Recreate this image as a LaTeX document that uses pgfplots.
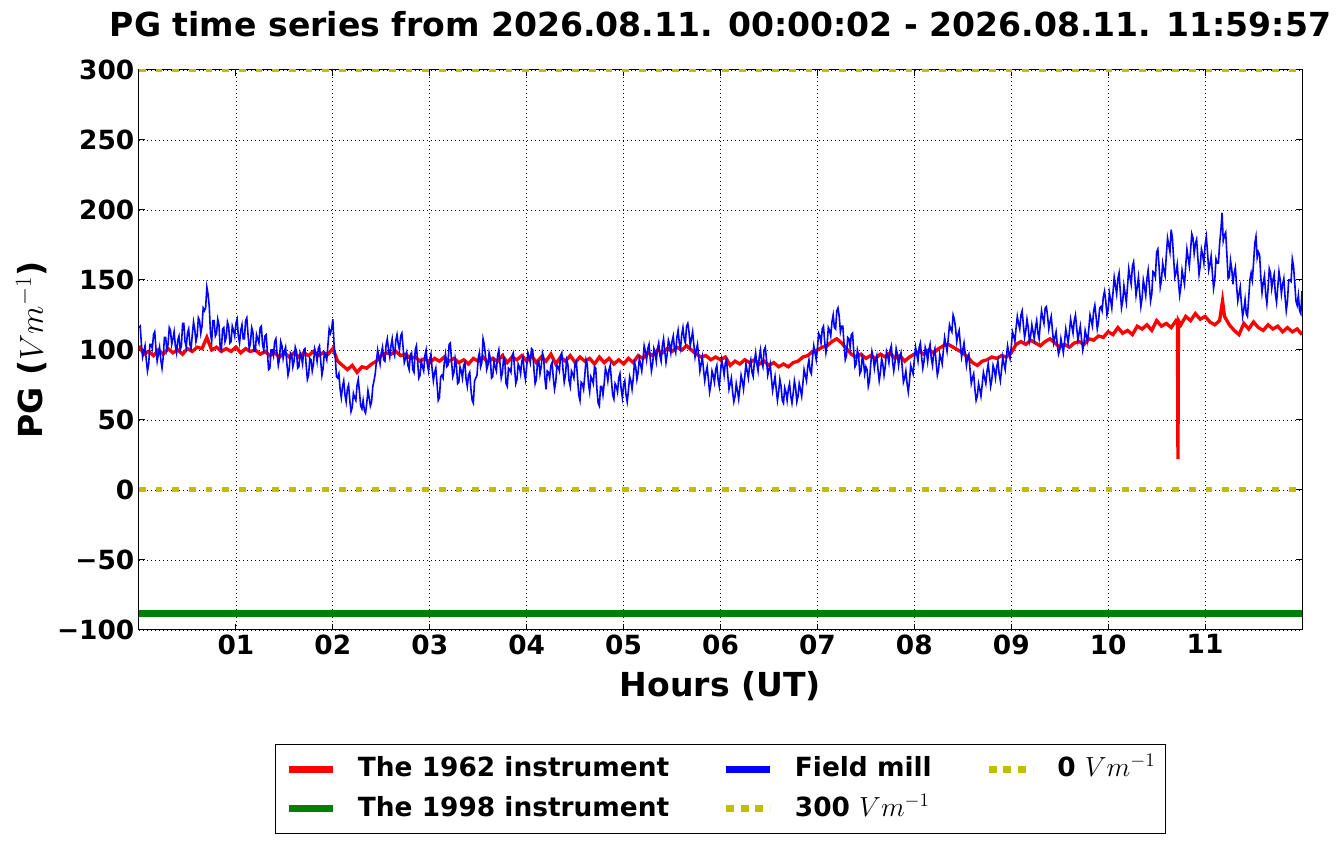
\documentclass[border=0pt]{standalone}
\usepackage[no-math]{fontspec}
\setmainfont{DejaVu Sans}
\usepackage{pgfplots}
\pgfplotsset{compat=1.18}
\definecolor{myred}{rgb}{1,0,0}
\definecolor{myblue}{rgb}{0,0,1}
\definecolor{mygreen}{rgb}{0,0.5,0}
\definecolor{myyellow}{rgb}{0.75,0.75,0}
\newcommand{\tickfont}{\fontsize{19.8}{23}\selectfont\bfseries}
\newcommand{\labfont}{\fontsize{24.8}{30}\selectfont\bfseries}
\newcommand{\unitm}{{\fontsize{19.4}{20}\selectfont$Vm^{-1}$}}
\begin{document}
\begin{tikzpicture}
\begin{axis}[
  name=ax,
  scale only axis,
  width=872.25pt, height=420pt,
  xmin=0, xmax=12, ymin=-100, ymax=300,
  xtick={1,2,3,4,5,6,7,8,9,10,11},
  xticklabels={01,02,03,04,05,06,07,08,09,10,11},
  ytick={-100,-50,0,50,100,150,200,250,300},
  yticklabels={−100,−50,0,50,100,150,200,250,300},
  tick label style={font=\tickfont},
  grid=major,
  major grid style={black, line width=0.6pt, dash pattern=on 0.75pt off 2.25pt},
  axis line style={black, line width=0.75pt},
  tick style={black, line width=0.75pt},
  major tick length=4.5pt,
  tick align=inside,
  legend columns=3,
  legend cell align=left,
  legend style={at={(0.5,0)}, anchor=north, yshift=-85.5pt, draw=black, line width=0.75pt,
    inner xsep=7.5pt, inner ysep=9pt, font=\tickfont,
    nodes={inner sep=0pt, text height=15pt, text depth=3.75pt},
    /tikz/row sep=11.25pt,
    /tikz/every odd column/.append style={column sep=16pt},
    /tikz/every even column/.append style={column sep=40pt}},
  legend image code/.code={\path (0pt,-6.4pt) -- (0pt,-6.4pt); \draw[#1] (0pt,0pt) -- (33pt,0pt);},
]
\addplot[myred, line width=2.5pt, forget plot] coordinates {
(0.00,103)(0.05,97)(0.10,99)(0.15,96)(0.20,100)(0.25,97)(0.30,101)(0.35,98)(0.40,100)(0.45,97)
(0.50,101)(0.55,99)(0.60,102)(0.65,101)(0.70,109)(0.75,100)(0.80,102)(0.85,99)(0.90,101)(0.95,99)
(1.00,102)(1.05,98)(1.10,101)(1.15,99)(1.20,100)(1.25,97)(1.30,99)(1.35,96)(1.40,98)(1.45,95)
(1.50,98)(1.55,95)(1.60,98)(1.65,95)(1.70,98)(1.75,96)(1.80,99)(1.85,96)(1.90,98)(1.95,97)
(2.00,101)(2.05,92)(2.10,89)(2.15,86)(2.20,89)(2.25,84)(2.30,88)(2.35,87)(2.40,90)(2.45,92)
(2.50,96)(2.55,98)(2.60,97)(2.65,99)(2.70,96)(2.75,97)(2.80,94)(2.85,95)(2.90,92)(2.95,94)
(3.00,91)(3.05,94)(3.10,92)(3.15,95)(3.20,92)(3.25,94)(3.30,91)(3.35,93)(3.40,90)(3.45,94)
(3.50,92)(3.55,95)(3.60,91)(3.65,94)(3.70,92)(3.75,96)(3.80,91)(3.85,95)(3.90,93)(3.95,96)
(4.00,92)(4.05,96)(4.10,91)(4.15,95)(4.20,92)(4.25,97)(4.30,90)(4.35,95)(4.40,92)(4.45,96)
(4.50,91)(4.55,95)(4.60,92)(4.65,94)(4.70,90)(4.75,95)(4.80,91)(4.85,94)(4.90,90)(4.95,93)
(5.00,90)(5.05,94)(5.10,91)(5.15,96)(5.20,94)(5.25,98)(5.30,96)(5.35,100)(5.40,98)(5.45,101)
(5.50,99)(5.55,102)(5.60,100)(5.65,103)(5.70,100)(5.75,97)(5.80,95)(5.85,96)(5.90,93)(5.95,95)
(6.00,93)(6.05,95)(6.10,89)(6.15,92)(6.20,90)(6.25,93)(6.30,91)(6.35,93)(6.40,90)(6.45,92)
(6.50,89)(6.55,91)(6.60,88)(6.65,90)(6.70,88)(6.75,91)(6.80,92)(6.85,95)(6.90,96)(6.95,99)
(7.00,100)(7.05,102)(7.10,103)(7.15,106)(7.20,108)(7.25,105)(7.30,101)(7.35,97)(7.40,95)(7.45,97)
(7.50,94)(7.55,96)(7.60,94)(7.65,97)(7.70,95)(7.75,98)(7.80,94)(7.85,96)(7.90,92)(7.95,95)
(8.00,97)(8.05,99)(8.10,97)(8.15,100)(8.20,98)(8.25,101)(8.30,103)(8.35,104)(8.40,102)(8.45,100)
(8.50,98)(8.55,95)(8.60,91)(8.65,89)(8.70,92)(8.75,93)(8.80,95)(8.85,94)(8.90,96)(8.95,95)
(9.00,98)(9.05,104)(9.10,106)(9.15,104)(9.20,107)(9.25,105)(9.30,103)(9.35,106)(9.40,108)(9.45,105)
(9.50,102)(9.55,104)(9.60,102)(9.65,105)(9.70,106)(9.75,104)(9.80,108)(9.85,107)(9.90,110)(9.95,109)
(10.00,113)(10.05,111)(10.10,116)(10.15,112)(10.20,114)(10.25,111)(10.30,117)(10.35,115)(10.40,118)(10.45,114)
(10.50,121)(10.55,117)(10.60,119)(10.65,116)(10.70,121)(10.715,120)(10.72,22)(10.725,121)(10.75,118)(10.80,124)
(10.85,121)(10.90,126)(10.95,122)
(11.00,124)(11.05,120)(11.10,118)(11.15,121)(11.18,135)(11.20,124)(11.25,118)(11.30,114)(11.35,111)(11.40,119)
(11.45,115)(11.50,120)(11.55,116)(11.60,114)(11.65,118)(11.70,115)(11.75,117)(11.80,113)(11.85,116)(11.90,113)
(11.95,115)(12.00,111)
};
\addplot[mygreen, line width=5.25pt, forget plot] coordinates {(0,-88) (12,-88)};
\addplot[myblue, line width=1.2pt, forget plot] table[row sep=\\, header=false, x expr=\coordindex/80, y index=0] {
116\\117\\104\\95\\99\\103\\93\\85\\90\\104\\104\\101\\111\\113\\101\\92\\97\\102\\93\\87\\95\\109\\109\\100\\104\\116\\114\\104\\108\\113\\103\\98\\107\\110\\100\\103\\119\\119\\106\\102\\112\\115\\104\\101\\111\\120\\115\\106\\110\\123\\121\\112\\117\\130\\128\\130\\145\\140\\131\\112\\106\\121\\121\\110\\112\\122\\118\\102\\100\\115\\116\\106\\109\\120\\117\\105\\106\\117\\114\\110\\
119\\122\\110\\105\\114\\118\\108\\108\\121\\123\\111\\101\\105\\116\\113\\99\\99\\111\\108\\105\\116\\117\\104\\100\\110\\111\\98\\86\\87\\100\\100\\96\\106\\108\\97\\89\\94\\106\\103\\94\\99\\102\\91\\82\\86\\98\\97\\88\\92\\102\\99\\87\\88\\98\\95\\90\\100\\101\\89\\79\\82\\94\\93\\85\\90\\101\\98\\92\\101\\103\\92\\82\\87\\98\\96\\93\\104\\115\\112\\115\\
122\\104\\95\\81\\80\\83\\72\\66\\74\\78\\68\\63\\72\\75\\64\\56\\59\\69\\66\\64\\75\\79\\70\\60\\58\\64\\57\\55\\62\\71\\66\\60\\63\\74\\78\\83\\92\\100\\95\\90\\98\\102\\93\\92\\104\\108\\100\\95\\103\\108\\99\\96\\107\\111\\104\\100\\110\\112\\102\\91\\94\\98\\89\\86\\97\\98\\86\\84\\100\\103\\92\\80\\82\\92\\88\\85\\96\\100\\90\\85\\
93\\97\\86\\78\\84\\87\\76\\64\\66\\81\\82\\80\\91\\97\\88\\89\\104\\105\\92\\81\\84\\94\\89\\76\\77\\88\\85\\80\\89\\91\\79\\74\\82\\84\\72\\64\\62\\78\\80\\82\\94\\98\\88\\91\\108\\104\\96\\86\\89\\98\\94\\80\\81\\92\\88\\85\\96\\100\\90\\80\\84\\95\\92\\76\\74\\87\\86\\84\\96\\98\\87\\76\\79\\90\\88\\83\\92\\95\\84\\79\\
88\\98\\95\\91\\101\\100\\86\\76\\79\\92\\92\\83\\88\\98\\95\\80\\72\\85\\84\\80\\89\\91\\80\\72\\77\\89\\88\\85\\96\\98\\86\\77\\82\\93\\90\\78\\74\\85\\83\\80\\91\\92\\80\\68\\64\\77\\76\\72\\82\\93\\90\\76\\70\\81\\79\\76\\88\\87\\72\\62\\60\\74\\74\\68\\76\\87\\84\\78\\86\\89\\78\\68\\65\\76\\74\\70\\80\\83\\72\\66\\
75\\78\\68\\63\\71\\81\\78\\72\\80\\91\\88\\79\\84\\94\\90\\85\\93\\103\\99\\93\\101\\104\\94\\85\\90\\101\\98\\92\\101\\105\\96\\92\\103\\108\\99\\91\\97\\107\\104\\98\\106\\110\\101\\98\\109\\114\\105\\101\\111\\116\\108\\105\\117\\119\\113\\103\\108\\113\\104\\95\\100\\104\\95\\85\\90\\95\\86\\78\\84\\88\\79\\70\\75\\85\\82\\77\\86\\89\\79\\74\\
84\\93\\88\\82\\91\\93\\82\\72\\76\\80\\70\\63\\67\\76\\71\\65\\73\\82\\78\\72\\81\\90\\85\\80\\89\\93\\84\\81\\92\\98\\90\\85\\95\\100\\91\\88\\100\\102\\93\\82\\86\\90\\80\\71\\76\\81\\72\\64\\70\\79\\74\\64\\62\\73\\70\\64\\72\\76\\67\\62\\69\\78\\73\\63\\67\\76\\72\\67\\76\\86\\82\\78\\88\\93\\85\\83\\95\\103\\98\\93\\
101\\112\\110\\105\\115\\117\\106\\98\\104\\116\\114\\110\\120\\125\\116\\115\\128\\130\\124\\113\\117\\117\\104\\93\\96\\109\\108\\102\\111\\112\\99\\88\\90\\100\\96\\83\\85\\95\\92\\83\\88\\86\\74\\78\\90\\99\\95\\87\\93\\96\\86\\78\\84\\94\\90\\82\\88\\99\\96\\91\\100\\103\\92\\85\\91\\101\\97\\89\\95\\98\\88\\77\\80\\85\\76\\70\\78\\89\\86\\83\\
93\\102\\97\\92\\102\\105\\95\\87\\92\\102\\99\\92\\100\\104\\94\\89\\98\\101\\91\\82\\86\\97\\94\\90\\100\\109\\104\\99\\108\\118\\115\\113\\125\\122\\116\\106\\111\\114\\104\\95\\100\\105\\97\\89\\95\\97\\86\\76\\80\\83\\72\\64\\67\\76\\72\\67\\75\\84\\80\\76\\85\\90\\82\\74\\79\\89\\86\\80\\88\\92\\83\\78\\86\\95\\90\\86\\95\\103\\98\\94\\
102\\113\\110\\106\\116\\124\\119\\115\\125\\128\\118\\109\\114\\122\\116\\106\\110\\118\\113\\108\\116\\121\\112\\108\\119\\128\\123\\119\\130\\131\\124\\115\\120\\124\\114\\105\\109\\113\\104\\97\\100\\108\\103\\98\\106\\115\\110\\105\\113\\122\\117\\112\\121\\125\\116\\107\\112\\117\\108\\100\\105\\114\\110\\106\\115\\125\\121\\117\\128\\132\\124\\115\\120\\130\\131\\128\\138\\142\\135\\125\\
129\\141\\136\\130\\141\\152\\146\\140\\151\\155\\142\\130\\135\\146\\140\\134\\146\\158\\152\\147\\160\\163\\151\\139\\145\\152\\141\\131\\137\\150\\145\\139\\151\\157\\146\\135\\140\\156\\155\\152\\170\\172\\160\\145\\150\\162\\157\\153\\168\\180\\175\\170\\186\\180\\166\\152\\155\\161\\149\\139\\145\\157\\152\\147\\160\\172\\166\\160\\171\\183\\180\\169\\176\\179\\166\\154\\160\\172\\168\\162\\
175\\181\\170\\157\\161\\167\\155\\144\\150\\165\\162\\162\\176\\185\\198\\178\\182\\184\\168\\151\\152\\164\\158\\147\\155\\159\\146\\135\\140\\145\\133\\124\\129\\136\\126\\124\\137\\150\\155\\150\\162\\176\\181\\166\\170\\168\\152\\141\\148\\153\\140\\133\\144\\158\\155\\144\\150\\154\\140\\134\\145\\156\\150\\140\\147\\151\\138\\128\\135\\150\\150\\149\\165\\160\\148\\135\\132\\139\\128\\126\\142\\
};
\addplot[myyellow, line width=3.75pt, dash pattern=on 4.9pt off 7.6pt, forget plot] coordinates {(0,300) (12,300)};
\addplot[myyellow, line width=3.75pt, dash pattern=on 4.9pt off 7.6pt, forget plot] coordinates {(0,0) (12,0)};
\addlegendimage{myred, line width=5.25pt}
\addlegendentry{The 1962 instrument}
\addlegendimage{myblue, line width=5.25pt}
\addlegendentry{Field mill}
\addlegendimage{myyellow, line width=5.25pt, dash pattern=on 6pt off 5pt}
\addlegendentry{0 \unitm}
\addlegendimage{mygreen, line width=5.25pt}
\addlegendentry{The 1998 instrument}
\addlegendimage{myyellow, line width=5.25pt, dash pattern=on 6pt off 5pt}
\addlegendentry{300 \unitm}
\end{axis}
\node[anchor=base, font=\labfont] at ([yshift=24.75pt]ax.north) {PG time series from 2026.08.11. 00:00:02 - 2026.08.11. 11:59:57};
\node[anchor=base, font=\labfont] at ([yshift=-50.25pt]ax.south) {Hours (UT)};
\node[anchor=base, rotate=90, font=\labfont] at ([xshift=-72pt]ax.west) {PG ($Vm^{-1}$)};
\pgfresetboundingbox
\path[use as bounding box] ([xshift=-104.25pt,yshift=-160.5pt]ax.south west) rectangle ([xshift=29.25pt,yshift=52.5pt]ax.north east);
\end{tikzpicture}
\end{document}
